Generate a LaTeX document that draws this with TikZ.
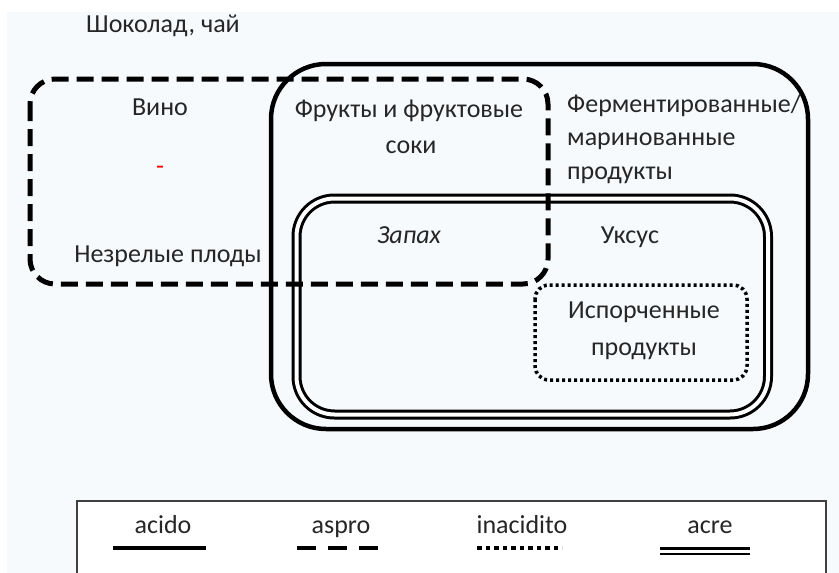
\documentclass[tikz,border=0pt]{standalone}
\usepackage{fontspec}
\setmainfont{Carlito}
\definecolor{paper}{RGB}{247,250,253}
\begin{document}
\begin{tikzpicture}[x=1pt,y=-1pt,
  lbl/.style={font=\fontsize{26}{30}\selectfont, text=black!85, inner sep=0pt,
    text height=17pt, text depth=5pt, align=center},
  acido/.style={draw=black, line width=4.5},
  aspro/.style={draw=black, line width=5, dash pattern=on 17 off 8},
  inacidito/.style={draw=black, line width=3.5, dash pattern=on 3 off 3},
  acre/.style={draw=black, line width=3, double=white, double distance=4}]
\useasboundingbox (0,0) rectangle (839,573);
\clip (0,0) rectangle (839,573);
\fill[paper] (7,12) rectangle (839,573);
% regions
\draw[acido, rounded corners=55] (271,64) rectangle (808,429);
\draw[acre, rounded corners=38] (296.5,198.5) rectangle (768,414.5);
\draw[inacidito, rounded corners=14] (535,285) rectangle (747,380);
\draw[aspro, rounded corners=25] (30,79) rectangle (548,284);
% labels
\node[lbl] (choc) at (163,26) {Шоколад, чай};
\node[lbl] (wine) at (160,109) {Вино};
\node[lbl, text=red] (dash) at (160,168) {-};
\node[lbl] (unripe) at (168,256) {Незрелые плоды};
\node[lbl] (fruit) at (409,111) {Фрукты и фруктовые};
\node[lbl] (juice) at (411,147) {соки};
\node[lbl, anchor=west] (ferm1) at (567,106) {Ферментированные/};
\node[lbl, anchor=west] (ferm2) at (567,139) {маринованные};
\node[lbl, anchor=west] (ferm3) at (567,173) {продукты};
\node[lbl, font=\fontsize{26}{30}\selectfont\itshape] (smell) at (409,237) {Запах};
\node[lbl] (vinegar) at (630,237) {Уксус};
\node[lbl] (spoil1) at (644,312) {Испорченные};
\node[lbl] (spoil2) at (644,349) {продукты};
% legend
\draw[black!75, fill=white, line width=2] (77,501) rectangle (826,600);
\node[lbl] (lacido) at (163,527) {acido};
\node[lbl] (laspro) at (341,527) {aspro};
\node[lbl] (linac) at (522,527) {inacidito};
\node[lbl] (lacre) at (710,527) {acre};
\draw[acido, line width=4] (113,548) -- (206,548);
\draw[aspro, line width=4.5, dash pattern=on 19 off 12] (297,548) -- (378,548);
\draw[inacidito, line width=3.5, dash pattern=on 4.5 off 4] (477,548) -- (562,548);
\draw[acre, line width=2.5, double distance=3] (660,551) -- (750,551);
\end{tikzpicture}
\end{document}
